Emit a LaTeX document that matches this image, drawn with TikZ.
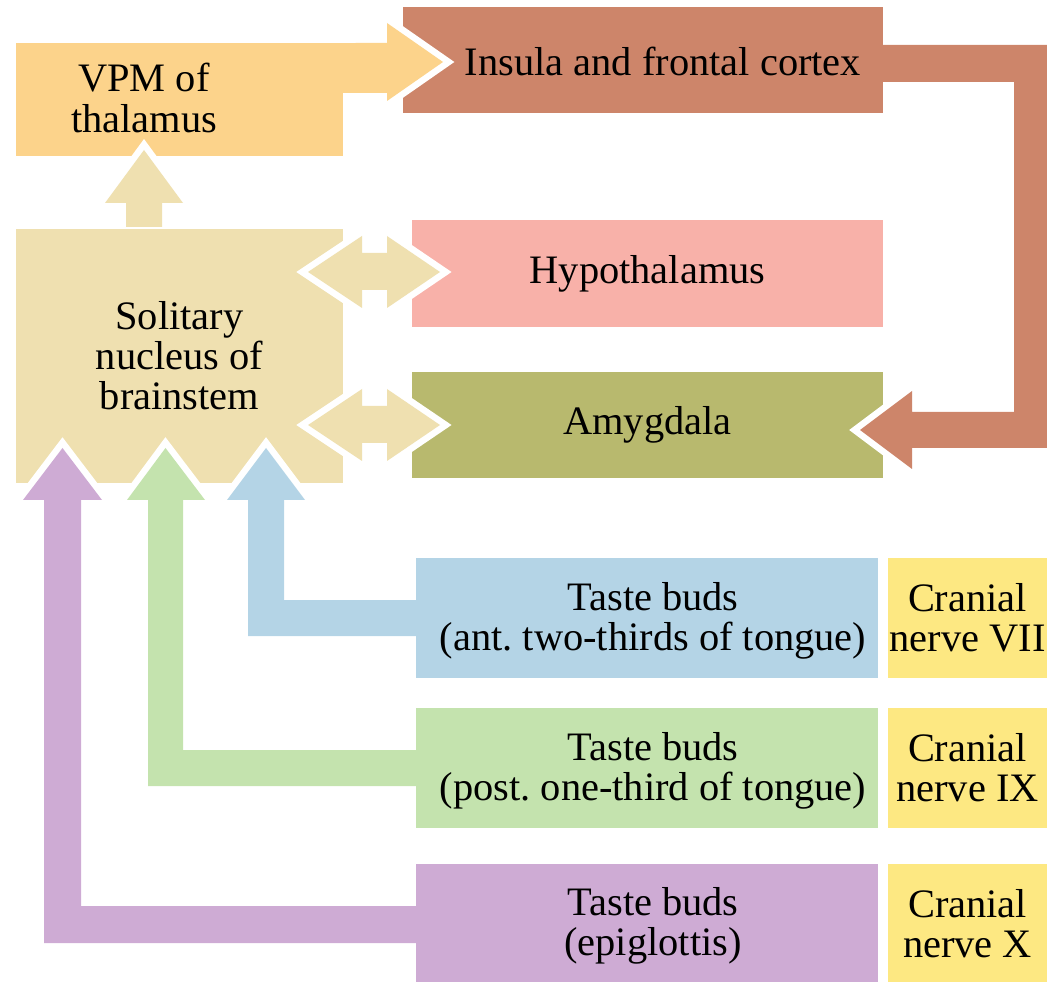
\documentclass[tikz,border=0pt]{standalone}
\usepackage{fontspec}
\setmainfont{Liberation Serif}
\frenchspacing

\definecolor{vpmcol}{RGB}{252,211,139}
\definecolor{inscol}{RGB}{205,133,106}
\definecolor{solcol}{RGB}{239,224,176}
\definecolor{hypcol}{RGB}{248,177,169}
\definecolor{amycol}{RGB}{184,185,110}
\definecolor{antcol}{RGB}{180,212,230}
\definecolor{postcol}{RGB}{196,227,174}
\definecolor{epicol}{RGB}{206,171,212}
\definecolor{nervecol}{RGB}{253,232,130}

\begin{document}
\begin{tikzpicture}[x=0.02cm, y=-0.02cm]
\tikzset{ box/.style={rectangle, inner sep=0pt, outer sep=0pt, align=center, font=\fontsize{23}{22.8}\selectfont},
          rim/.style={draw=white, line width=0.26cm, line join=miter}, }

\useasboundingbox (0,0) rectangle (1047,982);

%\draw [lightgray, dashed](0,0) grid[step=50] (1047,982);

\node [box, fill=vpmcol,   minimum width=6.54cm, minimum height=2.26cm] (VPM) at (179.5,99.5) {};
\node [box, fill=inscol,   minimum width=9.60cm, minimum height=2.12cm] (INS) at (643,60)    {};
\node [box, fill=solcol,   minimum width=6.54cm, minimum height=5.10cm] (SOL) at (179.5,356) {Solitary\\nucleus of\\brainstem};
\node [box, fill=hypcol,   minimum width=9.42cm, minimum height=2.14cm] (HYP) at (647.5,273.5) {Hypothalamus};
\node [box, fill=amycol,   minimum width=9.42cm, minimum height=2.12cm] (AMY) at (647.5,425) {Amygdala};

\node [box, fill=antcol,   minimum width=9.24cm, minimum height=2.40cm] (ANT)  at (647,618) {};
\node [box, fill=postcol,  minimum width=9.24cm, minimum height=2.40cm] (POST) at (647,768) {};
\node [box, fill=epicol,   minimum width=9.24cm, minimum height=2.40cm] (EPI)  at (647,924) {};

\node [box, fill=nervecol, minimum width=3.18cm, minimum height=2.40cm] (VII) at (967.5,618) {Cranial\\nerve VII};
\node [box, fill=nervecol, minimum width=3.18cm, minimum height=2.40cm] (IX)  at (967.5,768) {Cranial\\nerve IX};
\node [box, fill=nervecol, minimum width=3.18cm, minimum height=2.40cm] (X)   at (967.5,924) {Cranial\\nerve X};

\node [box] (VPMtxt)  at (144,98)  {VPM of\\thalamus};
\node [box] (INStxt)  at (663,61)  {Insula and frontal cortex};
\node [box] (ANTtxt)  at (653,621) {Taste buds\\(ant. two-thirds of tongue)};
\node [box] (POSTtxt) at (653,771) {Taste buds\\(post. one-third of tongue)};
\node [box] (EPItxt)  at (653,926) {Taste buds\\(epiglottis)};

% VPM -> insula
\draw [rim] (443,62) -- (387,23) -- (387,101) -- cycle;
\fill [vpmcol] (VPM.north east) -- (387,43) -- (387,23) -- (443,62) -- (387,101) -- (387,93) -- (343,93) -- cycle;

% solitary -> VPM
\draw [rim] (144,150) -- (105,203) -- (183,203) -- cycle;
\fill [solcol] (126,227) -- (126,203) -- (105,203) -- (144,150) -- (183,203) -- (162,203) -- (162,227) -- cycle;

% insula -> amygdala
\draw [rim] (860,430) -- (912,391) -- (912,469) -- cycle;
\fill [inscol] (INS.east) ++(0,-15) -- (1050,45) -- (1050,448) -- (912,448) -- (912,469) -- (860,430) -- (912,391) -- (912,412) -- (1014,412) -- (1014,82) -- (883,82) -- (883,45) -- cycle;

% solitary <-> hypothalamus, amygdala
\foreach \yy in {272,425} {
  \draw [rim] (308,\yy) -- (362,\yy-36) -- (362,\yy+36) -- cycle;
  \draw [rim] (440,\yy) -- (387,\yy-36) -- (387,\yy+36) -- cycle;
  \fill [solcol] (308,\yy) -- (362,\yy-36) -- (362,\yy-19) -- (387,\yy-19) -- (387,\yy-36) -- (440,\yy)
                 -- (387,\yy+36) -- (387,\yy+18) -- (362,\yy+18) -- (362,\yy+36) -- cycle;
}

% taste buds -> solitary
\draw [rim] (266,448) -- (227,500) -- (305,500) -- cycle;
\fill [antcol] (ANT.west) ++(0,-18) -- (284,600) -- (284,500) -- (305,500) -- (266,448) -- (227,500) -- (248,500) -- (248,636) -- (416,636) -- (416,600) -- cycle;

\draw [rim] (165.5,448) -- (127,500) -- (205,500) -- cycle;
\fill [postcol] (POST.west) ++(0,-18) -- (183,750) -- (183,500) -- (205,500) -- (165.5,448) -- (127,500) -- (148,500) -- (148,786) -- (416,786) -- (416,750) -- cycle;

\draw [rim] (62.5,448) -- (23,500) -- (102,500) -- cycle;
\fill [epicol] (EPI.west) ++(0,-18) -- (81,906) -- (81,500) -- (102,500) -- (62.5,448) -- (23,500) -- (44,500) -- (44,943) -- (416,943) -- (416,906) -- cycle;

\end{tikzpicture}
\end{document}
